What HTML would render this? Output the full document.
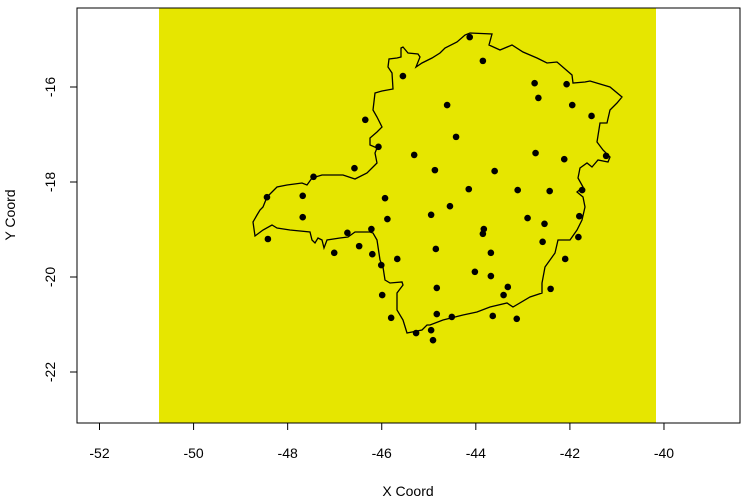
<!DOCTYPE html>
<html><head><meta charset="utf-8"><style>
html,body{margin:0;padding:0;background:#fff;width:750px;height:500px;overflow:hidden}
svg{display:block;font-family:"Liberation Sans",Arial,sans-serif}
</style></head><body>
<svg id="chart" width="750" height="500" viewBox="0 0 750 500">
<rect x="159" y="8" width="497" height="415" fill="#E6E600"/>
<path fill="none" stroke="#000" stroke-width="1.3" d="M401,48 L403,47 L408,53 L418,54 L420,57 L416,67 L422,63 L432,58 L440,53 L445,48 L457,42 L465,35 L470,33 L492,34 L489,45 L500,50 L512,45 L523,52 L537,58 L547,63 L557,62 L572,75 L573,83 L585,82 L590,81 L610,87 L622,97 L617,103 L610,110 L607,123 L600,123 L597,142 L603,150 L610,157 L608,162 L598,160 L592,167 L587,163 L580,168 L578,178 L583,187 L577,192 L583,197 L585,207 L582,220 L577,230 L570,240 L558,240 L555,253 L545,267 L542,283 L542,293 L530,297 L513,307 L507,303 L490,307 L477,312 L463,315 L443,320 L430,325 L427,325 L422,330 L407,333 L403,320 L397,310 L397,293 L403,285 L402,282 L390,283 L385,280 L383,267 L380,260 L377,240 L373,233 L370,232 L355,232 L348,237 L340,238 L327,240 L324,248 L322,240 L318,238 L315,243 L312,240 L310,232 L290,230 L277,228 L272,225 L263,230 L255,236 L253,222 L257,215 L260,210 L263,207 L267,197 L272,192 L277,187 L287,185 L302,183 L307,185 L312,178 L322,175 L343,175 L355,179 L367,173 L373,167 L377,163 L375,153 L377,148 L370,145 L370,138 L377,132 L382,127 L377,117 L373,110 L375,93 L382,91 L393,89 L392,73 L388,67 L389,59 L397,58 L401,57 Z"/>
<g id="points"></g>
<rect x="77" y="8" width="663" height="415" fill="none" stroke="#000" stroke-width="1"/>
<g id="axes"></g>
<text x="408" y="496" text-anchor="middle" font-size="14">X Coord</text>
<text transform="translate(15,215) rotate(-90)" text-anchor="middle" font-size="14">Y Coord</text>
</svg>
<script>
const lons=[-45.55,-46.35,-46.07,-45.31,-44.87,-46.58,-47.45,-48.44,-47.68,-45.93,-44.95,-47.68,-45.88,-48.42,-46.73,-46.22,-46.48,-47.01,-46.20,-45.67,-46.01,-44.85,-45.99,-44.83,-45.80,-44.83,-45.27,-44.95,-44.91,-44.13,-43.85,-42.75,-42.07,-42.67,-41.95,-41.54,-44.61,-44.42,-42.73,-42.12,-41.23,-43.60,-44.15,-43.11,-42.43,-41.74,-44.55,-42.90,-42.54,-41.80,-43.83,-43.85,-41.82,-42.58,-43.68,-42.10,-44.02,-43.68,-43.32,-43.41,-42.41,-44.51,-43.64,-43.13];
const lats=[-15.77,-16.69,-17.26,-17.43,-17.75,-17.71,-17.89,-18.32,-18.29,-18.34,-18.69,-18.74,-18.78,-19.20,-19.07,-18.99,-19.35,-19.49,-19.52,-19.62,-19.75,-19.41,-20.38,-20.23,-20.86,-20.78,-21.18,-21.12,-21.33,-14.95,-15.45,-15.92,-15.94,-16.23,-16.38,-16.61,-16.38,-17.05,-17.39,-17.52,-17.45,-17.77,-18.15,-18.17,-18.19,-18.17,-18.51,-18.76,-18.88,-18.72,-18.99,-19.09,-19.16,-19.26,-19.49,-19.62,-19.89,-19.98,-20.21,-20.38,-20.25,-20.84,-20.82,-20.88];
const xTicks=[-52,-50,-48,-46,-44,-42,-40];
const yTicks=[-16,-18,-20,-22];
const NS='http://www.w3.org/2000/svg';
function sx(v){return 99.5+(v+52)*47.04;}
function sy(v){return 87+(-16-v)*47.5;}
const pg=document.getElementById('points');
for(let i=0;i<lons.length;i++){
  const c=document.createElementNS(NS,'circle');
  c.setAttribute('cx',sx(lons[i]));c.setAttribute('cy',sy(lats[i]));c.setAttribute('r',3.3);c.setAttribute('fill','#000');
  
  
  pg.appendChild(c);
}
const ax=document.getElementById('axes');
xTicks.forEach(t=>{
  const l=document.createElementNS(NS,'line');
  l.setAttribute('x1',sx(t));l.setAttribute('x2',sx(t));l.setAttribute('y1',423);l.setAttribute('y2',430);l.setAttribute('stroke','#000');
  
  
  ax.appendChild(l);
  const tx=document.createElementNS(NS,'text');
  tx.setAttribute('x',sx(t));tx.setAttribute('y',458);tx.setAttribute('text-anchor','middle');tx.setAttribute('font-size','14');
  tx.textContent=t;
  
  
  ax.appendChild(tx);
});
yTicks.forEach(t=>{
  const l=document.createElementNS(NS,'line');
  l.setAttribute('x1',70);l.setAttribute('x2',77);l.setAttribute('y1',sy(t));l.setAttribute('y2',sy(t));l.setAttribute('stroke','#000');
  
  
  ax.appendChild(l);
  const tx=document.createElementNS(NS,'text');
  tx.setAttribute('transform','translate(55,'+sy(t)+') rotate(-90)');tx.setAttribute('text-anchor','middle');tx.setAttribute('font-size','14');
  tx.textContent=t;
  
  
  ax.appendChild(tx);
});
</script>
</body></html>
